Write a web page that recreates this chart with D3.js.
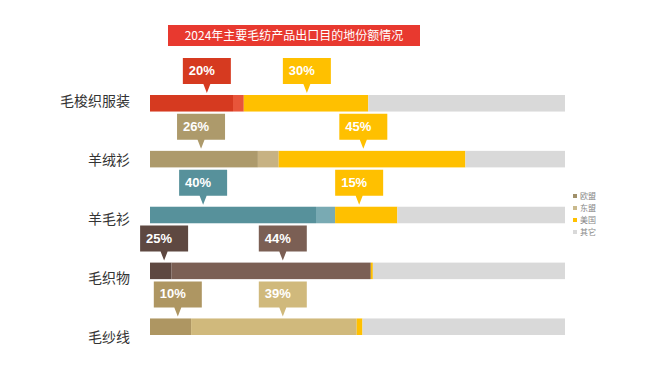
<!DOCTYPE html>
<html>
<head>
<meta charset="utf-8">
<script src="https://cdn.jsdelivr.net/npm/d3@7"></script>
<style>
  body { margin: 0; background: #fff; }
  text { font-family: "Noto Sans CJK SC", "Noto Sans", sans-serif; }
</style>
</head>
<body>
<div id="chart"></div>
<script>
// categories (top to bottom)
const categories = ["毛梭织服装", "羊绒衫", "羊毛衫", "毛织物", "毛纱线"];
const seriesNames = ["欧盟", "东盟", "美国", "其它"];

// shares as drawn (%)
const euShare    = [20, 26, 40, 5.2, 9.9];
const aseanShare = [2.6, 5, 4.6, 48, 39.9];
const usShare    = [30, 45, 15, 0.5, 1.4];
const otherShare = [47.4, 24, 40.4, 46.3, 48.8];

// callout labels, which series they point at, and where on the 0-100 axis
const calloutText   = [["20%", "30%"], ["26%", "45%"], ["40%", "15%"], ["25%", "44%"], ["10%", "39%"]];
const calloutSeries = [[0, 2], [0, 2], [0, 2], [0, 1], [0, 1]];
const calloutAt     = [[13.7, 37.8], [12.3, 51.4], [12.8, 50.4], [3.4, 32], [6.7, 32]];

const rowColors = [
  ["#d63a20", "#e8553a", "#ffc000", "#d9d9d9"],
  ["#ad9a6b", "#c7b283", "#ffc000", "#d9d9d9"],
  ["#57919b", "#79aab3", "#ffc000", "#d9d9d9"],
  ["#5e4841", "#7b5f54", "#ffc000", "#d9d9d9"],
  ["#ae9662", "#d0b97c", "#ffc000", "#d9d9d9"]
];
const legendColors = ["#a0906a", "#c9b98c", "#ffc000", "#d9d9d9"];

const W = 660, H = 372;
const svg = d3.select("#chart").append("svg")
  .attr("width", W)
  .attr("height", H);

var x = d3.scaleLinear().domain([0, 100]).range([150, 565]);
var y = d3.scaleBand().domain(categories).range([95, 335]).paddingInner(0.704).paddingOuter(0);
var yLabel = d3.scalePoint().domain(categories).range([101, 337]);

// title
svg.append("rect")
  .attr("x", 168).attr("y", 25)
  .attr("width", 252).attr("height", 21)
  .attr("fill", "#e8392f");
svg.append("text")
  .attr("x", 294).attr("y", 40)
  .attr("text-anchor", "middle")
  .attr("fill", "#fff")
  .style("font-size", "12px")
  .text("2024年主要毛纺产品出口目的地份额情况");

// stacked rows
const rows = categories.map((c, i) => {
  const vals = [euShare[i], aseanShare[i], usShare[i], otherShare[i]];
  let acc = 0;
  return vals.map((v, k) => {
    const seg = {cat: c, row: i, k: k, x0: acc, x1: acc + v};
    acc += v;
    return seg;
  });
});

const g = svg.append("g");
rows.forEach(segs => {
  g.selectAll(null)
    .data(segs)
    .enter().append("rect")
    .attr("x", d => x(d.x0))
    .attr("width", d => x(d.x1) - x(d.x0))
    .attr("y", d => y(d.cat))
    .attr("height", y.bandwidth())
    .attr("fill", d => rowColors[d.row][d.k]);
});

// category labels
svg.selectAll(".cat")
  .data(categories)
  .enter().append("text")
  .attr("class", "cat")
  .attr("x", 130)
  .attr("y", d => yLabel(d))
  .attr("dy", "0.35em")
  .attr("text-anchor", "end")
  .attr("fill", "#333")
  .style("font-size", "14px")
  .text(d => d);

// callouts
const callouts = [];
categories.forEach((c, i) => {
  calloutText[i].forEach((t, j) => {
    callouts.push({cat: c, text: t, at: calloutAt[i][j], color: rowColors[i][calloutSeries[i][j]]});
  });
});

const cw = 48, ch = 26;
const cg = svg.selectAll(".callout")
  .data(callouts)
  .enter().append("g")
  .attr("class", "callout")
  .attr("transform", d => "translate(" + x(d.at) + "," + (y(d.cat) - 37) + ")");

cg.append("path")
  .attr("d", "M" + (-cw / 2) + ",0H" + (cw / 2) + "V" + ch + "H3.5L0," + (ch + 9) + "L-3.5," + ch + "H" + (-cw / 2) + "Z")
  .attr("fill", d => d.color);

cg.append("text")
  .attr("x", -cw / 2 + 6)
  .attr("y", 17)
  .attr("fill", "#fff")
  .style("font-family", "Arial, 'Liberation Sans', sans-serif")
  .style("font-weight", "bold")
  .style("font-size", "13px")
  .text(d => d.text);

// legend
const lg = svg.selectAll(".legend")
  .data(seriesNames)
  .enter().append("g")
  .attr("class", "legend")
  .attr("transform", (d, i) => "translate(573," + (196 + i * 12) + ")");
lg.append("rect")
  .attr("x", 0).attr("y", -2)
  .attr("width", 4).attr("height", 4)
  .attr("fill", (d, i) => legendColors[i]);
lg.append("text")
  .attr("x", 7)
  .attr("dy", "0.35em")
  .attr("fill", "#888")
  .style("font-size", "8px")
  .text(d => d);
</script>
</body>
</html>
